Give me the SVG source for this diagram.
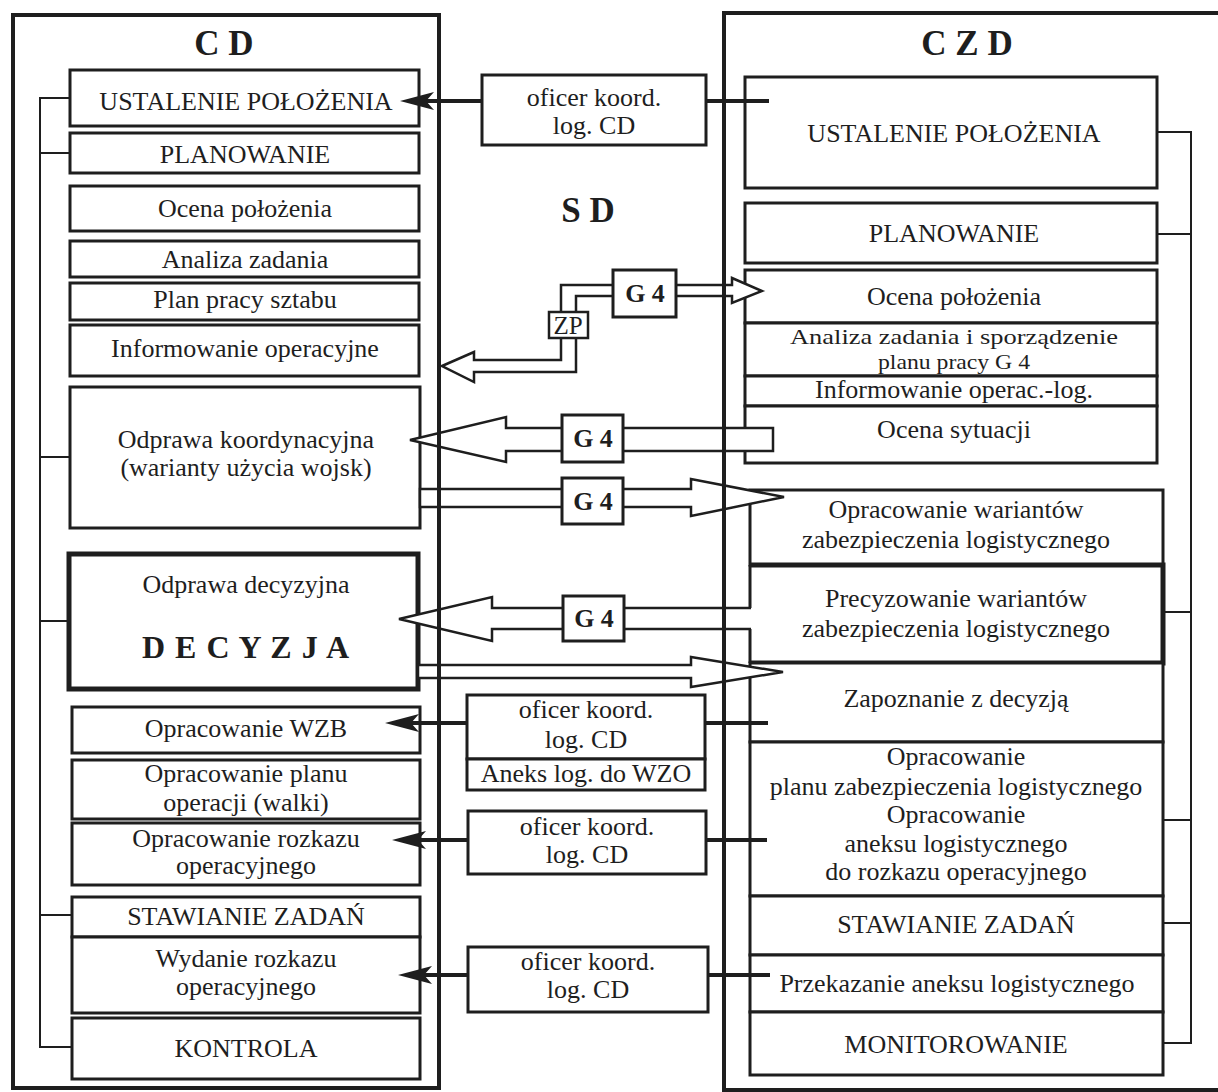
<svg xmlns="http://www.w3.org/2000/svg" width="1218" height="1092" viewBox="0 0 1218 1092">
<defs>
<style>
.box{fill:#fff;stroke:#1e1e1e;stroke-width:3}
.thick{fill:none;stroke:#1e1e1e;stroke-width:5}
.thin{fill:none;stroke:#1e1e1e;stroke-width:3}
.wf{fill:#fff;stroke:none}
.col{fill:none;stroke:#1e1e1e;stroke-width:4}
.br{fill:none;stroke:#1e1e1e;stroke-width:2}
.ln{fill:none;stroke:#1e1e1e;stroke-width:4}
.arr{fill:#fff;stroke:#1e1e1e;stroke-width:2.5;stroke-linejoin:miter}
.arrs{fill:none;stroke:#1e1e1e;stroke-width:2.5}
text{font-family:"Liberation Serif","Times New Roman",serif;font-size:26px;fill:#1e1e1e;text-anchor:middle}
.ttl{font-weight:bold;font-size:35px}
.g4{font-weight:bold;font-size:26px}
.dec{font-weight:bold;font-size:32px;letter-spacing:1px}
.sm{font-size:22px}
</style>
<marker id="ah" markerUnits="userSpaceOnUse" viewBox="0 0 34 18" markerWidth="34" markerHeight="18" refX="8" refY="9" orient="auto">
<path d="M34,9 L0,0 L8,9 L0,18 Z" fill="#1e1e1e"/>
</marker>
</defs>
<rect width="1218" height="1092" fill="#fff"/>

<!-- titles -->
<g id="title-cd"><text class="ttl" x="224" y="55">C D</text></g>
<g id="title-czd"><text class="ttl" x="967" y="55">C Z D</text></g>
<g id="title-sd"><text class="ttl" x="588" y="222">S D</text></g>

<!-- CD nodes -->
<g id="cd-ustalenie"><rect class="box" x="70" y="70" width="349" height="56"/><text x="246" y="110">USTALENIE POŁOŻENIA</text></g>
<g id="cd-planowanie"><rect class="box" x="70" y="133" width="349" height="40"/><text x="245" y="163">PLANOWANIE</text></g>
<g id="cd-ocena"><rect class="box" x="70" y="186" width="349" height="45"/><text x="245" y="217">Ocena położenia</text></g>
<g id="cd-analiza"><rect class="box" x="70" y="241" width="349" height="36"/><text x="245" y="268">Analiza zadania</text></g>
<g id="cd-plan-pracy"><rect class="box" x="70" y="283" width="349" height="37"/><text x="245" y="308">Plan pracy sztabu</text></g>
<g id="cd-informowanie"><rect class="box" x="70" y="325" width="349" height="51"/><text x="245" y="357">Informowanie operacyjne</text></g>
<g id="cd-odprawa-koord"><rect class="box" x="70" y="387" width="350" height="141"/><text x="246" y="448">Odprawa koordynacyjna</text><text x="246" y="476">(warianty użycia wojsk)</text></g>
<g id="cd-odprawa-dec"><rect class="box" x="69" y="554" width="349" height="135" style="stroke-width:5"/><text x="246" y="593">Odprawa decyzyjna</text><text class="dec" x="246" y="658">D E C Y Z J A</text></g>
<g id="cd-wzb"><rect class="box" x="72" y="707" width="348" height="46"/><text x="246" y="737">Opracowanie WZB</text></g>
<g id="cd-plan-operacji"><rect class="box" x="72" y="760" width="348" height="59"/><text x="246" y="782">Opracowanie planu</text><text x="246" y="811">operacji (walki)</text></g>
<g id="cd-rozkaz"><rect class="box" x="72" y="823" width="348" height="62"/><text x="246" y="847">Opracowanie rozkazu</text><text x="246" y="874">operacyjnego</text></g>
<g id="cd-stawianie"><rect class="box" x="72" y="897" width="348" height="40"/><text x="246" y="925">STAWIANIE ZADAŃ</text></g>
<g id="cd-wydanie"><rect class="box" x="72" y="937" width="348" height="76"/><text x="246" y="967">Wydanie rozkazu</text><text x="246" y="995">operacyjnego</text></g>
<g id="cd-kontrola"><rect class="box" x="72" y="1018" width="348" height="61"/><text x="246" y="1057">KONTROLA</text></g>

<!-- CZD nodes -->
<g id="czd-ustalenie"><rect class="box" x="745" y="77" width="412" height="111"/><text x="954" y="142">USTALENIE POŁOŻENIA</text></g>
<g id="czd-planowanie"><rect class="box" x="745" y="203" width="412" height="60"/><text x="954" y="242">PLANOWANIE</text></g>
<g id="czd-ocena"><rect class="box" x="745" y="270" width="412" height="53"/><text x="954" y="305">Ocena położenia</text></g>
<g id="czd-analiza"><rect class="box" x="745" y="323" width="412" height="53"/><text class="sm" x="954" y="344" textLength="328" lengthAdjust="spacingAndGlyphs">Analiza zadania i sporządzenie</text><text class="sm" x="954" y="369" textLength="152" lengthAdjust="spacingAndGlyphs">planu pracy G 4</text></g>
<g id="czd-informowanie"><rect class="box" x="745" y="376" width="412" height="30"/><text x="954" y="398">Informowanie operac.-log.</text></g>
<g id="czd-ocena-sytuacji"><rect class="box" x="745" y="406" width="412" height="57"/><text x="954" y="438">Ocena sytuacji</text></g>
<g id="czd-warianty"><rect class="box" x="750" y="490" width="413" height="75"/><text x="956" y="518">Opracowanie wariantów</text><text x="956" y="548">zabezpieczenia logistycznego</text></g>
<g id="czd-precyzowanie"><rect class="wf" x="750" y="565" width="413" height="98"/><path class="thick" d="M750,565 H1163 V663 H750"/><path class="thin" d="M750,565 V608 M750,629 V663"/><text x="956" y="607">Precyzowanie wariantów</text><text x="956" y="637">zabezpieczenia logistycznego</text></g>
<g id="czd-zapoznanie"><rect class="box" x="750" y="663" width="413" height="79"/><text x="956" y="707">Zapoznanie z decyzją</text></g>
<g id="czd-opracowanie"><rect class="box" x="750" y="742" width="413" height="154"/><text x="956" y="765">Opracowanie</text><text x="956" y="795">planu zabezpieczenia logistycznego</text><text x="956" y="823">Opracowanie</text><text x="956" y="852">aneksu logistycznego</text><text x="956" y="880">do rozkazu operacyjnego</text></g>
<g id="czd-stawianie"><rect class="box" x="750" y="896" width="413" height="59"/><text x="956" y="933">STAWIANIE ZADAŃ</text></g>
<g id="czd-przekazanie"><rect class="box" x="750" y="955" width="413" height="57"/><text x="957" y="992">Przekazanie aneksu logistycznego</text></g>
<g id="czd-monitorowanie"><rect class="box" x="750" y="1012" width="413" height="63"/><text x="956" y="1053">MONITOROWANIE</text></g>

<!-- SD nodes -->
<g id="sd-oficer-1"><rect class="box" x="482" y="75" width="224" height="70"/><text x="594" y="106">oficer koord.</text><text x="594" y="134">log. CD</text></g>
<g id="sd-oficer-2"><rect class="box" x="467" y="695" width="238" height="64"/><text x="586" y="718">oficer koord.</text><text x="586" y="748">log. CD</text></g>
<g id="sd-aneks"><rect class="box" x="467" y="759" width="238" height="31"/><text x="586" y="782">Aneks log. do WZO</text></g>
<g id="sd-oficer-3"><rect class="box" x="468" y="811" width="238" height="63"/><text x="587" y="835">oficer koord.</text><text x="587" y="863">log. CD</text></g>
<g id="sd-oficer-4"><rect class="box" x="468" y="947" width="240" height="65"/><text x="588" y="970">oficer koord.</text><text x="588" y="998">log. CD</text></g>

<!-- connectors -->
<g id="connectors">
<path class="br" d="M70,98 H40 V1047 H72 M40,153 H70 M40,457 H70 M40,621 H69 M40,915 H72"/>
<path class="br" d="M1157,132 H1191 V1043 H1163 M1157,234 H1191 M1163,612 H1191 M1163,820 H1191 M1163,923 H1191"/>

<path class="ln" d="M482,101 H426" marker-end="url(#ah)"/>
<path class="ln" d="M706,101 H769"/>
<path class="ln" d="M467,723 H411" marker-end="url(#ah)"/>
<path class="ln" d="M705,723 H768"/>
<path class="ln" d="M468,840 H418" marker-end="url(#ah)"/>
<path class="ln" d="M706,840 H767"/>
<path class="ln" d="M468,975 H424" marker-end="url(#ah)"/>
<path class="ln" d="M708,975 H770"/>

<g id="arrow-g4-zp">
<path class="arr" d="M442,366 L474,352 L474,360 L561,360 L561,285 L732,285 L732,278 L762,291 L732,303 L732,296 L576,296 L576,372 L474,372 L474,382 Z"/>
<rect class="box" x="613" y="270" width="63" height="47"/><text class="g4" x="645" y="302">G 4</text>
<rect class="box" x="549" y="312" width="39" height="26" style="stroke-width:2.5"/><text x="568" y="334" style="font-size:25px">ZP</text>
</g>
<g id="arrow-g4-2">
<path class="arr" d="M410,440 L506,417 L506,428 L773,428 L773,451 L506,451 L506,462 Z"/>
<rect class="box" x="562" y="415" width="61" height="47"/><text class="g4" x="593" y="447">G 4</text>
</g>
<g id="arrow-g4-3">
<path class="arr" d="M420,489 L691,489 L691,479 L784,497 L691,516 L691,507 L420,507 Z"/>
<rect class="box" x="562" y="478" width="61" height="46"/><text class="g4" x="593" y="510">G 4</text>
</g>
<g id="arrow-g4-4">
<path class="wf" d="M399,619 L492,597 L492,608 L752,608 L752,629 L492,629 L492,641 Z"/>
<path class="arrs" d="M751,608 L492,608 L492,597 L399,619 L492,641 L492,629 L751,629"/>
<rect class="box" x="563" y="596" width="61" height="45"/><text class="g4" x="594" y="627">G 4</text>
</g>
<g id="arrow-dec">
<path class="arr" d="M418,665 L691,665 L691,657 L783,672 L691,687 L691,678 L418,678 Z"/>
</g>
</g>

<!-- column frames -->
<g id="col-cd"><path class="col" d="M13,15 H439 V1088 H13 Z"/></g>
<g id="col-czd"><path class="col" d="M1222,13 H724 V1090 H1222"/></g>
</svg>
